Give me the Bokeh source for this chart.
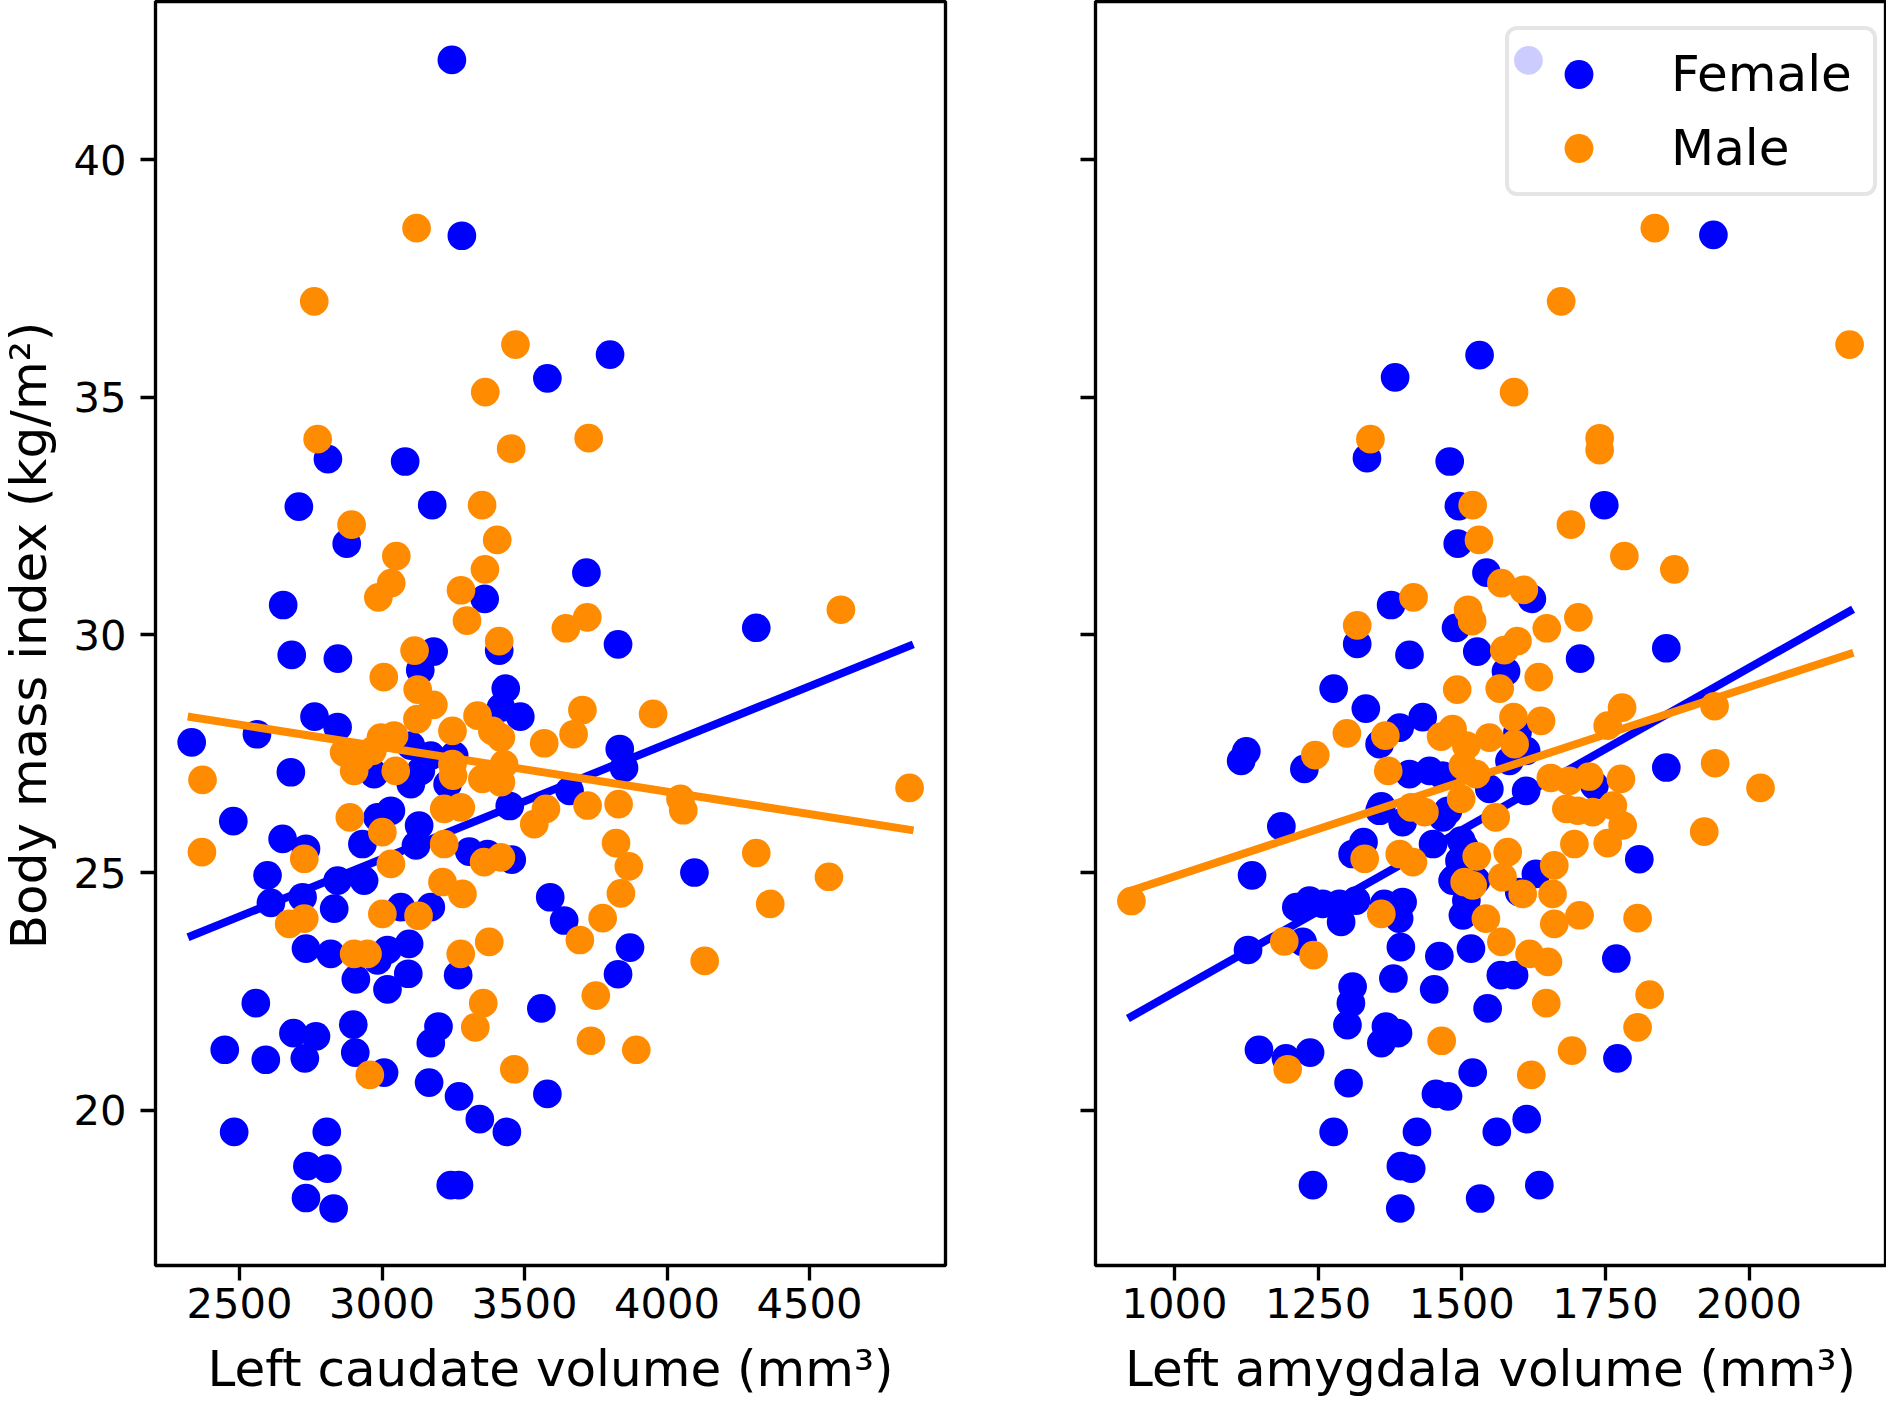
import math
from bokeh.plotting import figure
from bokeh.models import Range1d, FixedTicker, Legend, LegendItem, Label
from bokeh.layouts import row, column
from bokeh.embed import file_html
from bokeh.resources import INLINE

FONT = "DejaVu Sans"
BLUE = "#0000ff"
ORANGE = "#ff8c00"

# ---------------- data ----------------
bmi_ticks = [20, 25, 30, 35, 40]
caudate_ticks = [2500, 3000, 3500, 4000, 4500]
amygdala_ticks = [1000, 1250, 1500, 1750, 2000]

y_label = "Body mass index (kg/m²)"
x_label_left = "Left caudate volume (mm³)"
x_label_right = "Left amygdala volume (mm³)"
legend_labels = ["Female", "Male"]

caud_f_x = [3245, 3280, 3800, 3580, 2810, 3081, 2708, 3176, 2876, 3717, 3360, 2653, 4313, 3828, 2683, 2845,
            3181, 3411, 3134, 3434, 3417, 3485, 2763, 2844, 2561, 2332, 3834, 3849, 3101, 3171, 3253, 2680,
            2972, 3101, 3136, 3230, 3658, 3448, 2478, 3031, 2984, 3130, 2651, 2733, 2931, 3119, 3306, 3370,
            3455, 2598, 2937, 2844, 2610, 2832, 2721, 3066, 3171, 3590, 3639, 3870, 2733, 2820, 3019, 3095,
            2984, 2908, 3092, 3019, 3267, 3828, 2557, 3559, 2689, 2768, 2729, 2899, 2906, 3198, 3171, 2448,
            2592, 3007, 3165, 3270, 3580, 3343, 3438, 2481, 2806, 2738, 2808, 2733, 2830, 3241, 3270, 4096]
caud_f_y = [42.1, 38.4, 35.9, 35.4, 33.7, 33.65, 32.7, 32.73, 31.92, 31.31, 30.76, 30.63, 30.15, 29.8, 29.58, 29.5,
            29.65, 29.67, 29.26, 28.87, 28.47, 28.28, 28.28, 28.06, 27.91, 27.74, 27.6, 27.2, 27.67, 27.46, 27.46, 27.11,
            27.07, 26.86, 27.14, 26.86, 26.72, 26.4, 26.08, 26.3, 26.16, 25.99, 25.71, 25.5, 25.6, 25.57, 25.44, 25.39,
            25.27, 24.94, 24.83, 24.83, 24.36, 24.24, 24.48, 24.27, 24.27, 24.48, 23.99, 23.42, 23.4, 23.29, 23.37, 23.5,
            23.15, 22.75, 22.87, 22.54, 22.84, 22.86, 22.25, 22.14, 21.62, 21.55, 21.09, 21.8, 21.21, 21.76, 21.41, 21.27,
            21.06, 20.79, 20.58, 20.29, 20.34, 19.81, 19.54, 19.54, 19.54, 18.82, 18.77, 18.15, 17.93, 18.42, 18.42, 25.0]

caud_m_x = [3121, 2762, 3468, 3362, 2774, 3453, 3725, 3351, 2893, 3404, 3050, 3361, 3032, 2987, 3277, 3298,
            3645, 3720, 4610, 3411, 3114, 3006, 3125, 3180, 3124, 3335, 3247, 3387, 3417, 3703, 3672, 3569,
            2996, 3042, 2867, 2926, 2902, 3048, 2966, 3247, 3249, 3352, 3417, 3428, 3721, 3830, 3534, 3575,
            2370, 3218, 3276, 2887, 3001, 3218, 3821, 2368, 2727, 3031, 3358, 3417, 3212, 3282, 3866, 3838,
            2674, 2727, 3001, 3128, 3774, 3694, 3376, 3276, 2902, 2949, 3750, 3355, 3327, 3733, 3464, 2957,
            3892, 3951, 4851, 4047, 4057, 4313, 4568, 4362, 4132]
caud_m_y = [38.56, 37.02, 36.11, 35.11, 34.12, 33.92, 34.14, 32.73, 32.32, 32.0, 31.66, 31.38, 31.09, 30.79, 30.94, 30.3,
            30.14, 30.37, 30.53, 29.87, 29.67, 29.11, 28.85, 28.53, 28.23, 28.3, 27.98, 27.98, 27.84, 28.42, 27.91, 27.72,
            27.84, 27.88, 27.53, 27.42, 27.14, 27.14, 27.56, 27.28, 27.04, 26.97, 26.9, 27.28, 26.41, 26.44, 26.02, 26.34,
            26.95, 26.34, 26.37, 26.16, 25.85, 25.6, 25.62, 25.43, 25.29, 25.18, 25.22, 25.32, 24.8, 24.55, 25.13, 24.56,
            23.92, 24.03, 24.13, 24.09, 24.04, 23.58, 23.54, 23.29, 23.29, 23.29, 22.41, 22.25, 21.74, 21.46, 20.86, 20.74,
            21.27, 28.34, 26.78, 26.55, 26.31, 25.41, 24.91, 24.34, 23.14]

amyg_f_x = [1616, 1938, 1531, 1384, 1335, 1479, 1495, 1748, 1493, 1543, 1622, 1377, 1490, 1856, 1318, 1409,
            1527, 1706, 1577, 1277, 1333, 1392, 1432, 1597, 1612, 1125, 1116, 1226, 1357, 1409, 1444, 1467,
            1583, 1548, 1612, 1731, 1856, 1186, 1360, 1397, 1476, 1450, 1499, 1496, 1310, 1135, 1809, 1629,
            1484, 1212, 1235, 1258, 1287, 1316, 1290, 1128, 1223, 1365, 1397, 1391, 1329, 1394, 1461, 1516,
            1381, 1452, 1310, 1307, 1301, 1368, 1389, 1360, 1545, 1568, 1591, 1467, 1487, 1525, 1502, 1600,
            1769, 1147, 1194, 1236, 1303, 1519, 1455, 1476, 1613, 1277, 1422, 1561, 1394, 1412, 1241, 1635,
            1393, 1532, 1771, 1357, 1505, 1508]
amyg_f_y = [42.09, 38.42, 35.89, 35.42, 33.72, 33.65, 32.71, 32.73, 31.92, 31.31, 30.76, 30.63, 30.15, 29.72, 29.81, 29.58,
            29.65, 29.5, 29.23, 28.87, 28.45, 28.05, 28.27, 27.95, 27.56, 27.55, 27.35, 27.18, 27.7, 27.07, 27.14, 27.04,
            27.35, 26.76, 26.72, 26.83, 27.21, 25.97, 26.39, 26.06, 26.3, 25.6, 25.67, 25.25, 25.39, 24.94, 25.28, 24.97,
            24.83, 24.27, 24.41, 24.34, 24.34, 24.41, 23.96, 23.37, 23.54, 24.34, 24.38, 24.03, 25.64, 23.43, 23.24, 23.4,
            22.77, 22.54, 22.6, 22.25, 21.79, 21.76, 21.62, 21.41, 22.14, 22.84, 22.84, 26.16, 24.87, 24.83, 24.1, 24.59,
            23.19, 21.27, 21.09, 21.21, 20.57, 20.79, 20.34, 20.29, 19.81, 19.54, 19.54, 19.54, 18.82, 18.77, 18.42, 18.42,
            17.93, 18.14, 21.09, 26.3, 25.53, 24.41]

amyg_m_x = [1836, 1673, 2175, 1591, 1341, 1740, 1740, 1519, 1530, 1783, 1690, 1870, 1569, 1608, 1416, 1648,
            1703, 1511, 1518, 1318, 1597, 1574, 1492, 1566, 1634, 1590, 1638, 1779, 1754, 1300, 1367, 1464,
            1484, 1508, 1548, 1592, 1245, 1372, 1502, 1525, 1655, 1687, 1722, 1777, 1682, 1702, 1728, 1763,
            1780, 1754, 1696, 1412, 1435, 1499, 1559, 1331, 1392, 1415, 1526, 1580, 1661, 1505, 1519, 1571,
            1606, 1658, 1940, 1941, 2020, 1922, 1806, 1827, 1806, 925, 1191, 1242, 1360, 1542, 1569, 1661,
            1705, 1618, 1650, 1647, 1465, 1692, 1621, 1197]
amyg_m_y = [38.56, 37.02, 36.11, 35.11, 34.12, 34.14, 33.89, 32.73, 32.0, 31.66, 32.32, 31.38, 31.09, 30.95, 30.79, 30.14,
            30.37, 30.53, 30.29, 30.2, 29.87, 29.68, 28.85, 28.87, 29.11, 28.27, 28.19, 28.47, 28.09, 27.93, 27.88, 27.86,
            28.02, 27.67, 27.84, 27.7, 27.47, 27.14, 27.25, 27.07, 26.99, 26.93, 27.02, 26.97, 26.34, 26.3, 26.27, 26.41,
            25.99, 25.62, 25.6, 26.37, 26.27, 26.55, 26.16, 25.29, 25.39, 25.22, 25.34, 25.43, 25.15, 24.8, 24.73, 24.9,
            24.55, 24.55, 28.5, 27.3, 26.78, 25.86, 24.04, 22.43, 21.74, 24.4, 23.55, 23.26, 24.13, 24.03, 23.54, 23.92,
            24.1, 23.29, 23.12, 22.25, 21.46, 21.25, 20.74, 20.86]

# fitted regression lines (end points)
caud_fit_f_x = [2332, 4851]
caud_fit_f_y = [23.67, 29.77]
caud_fit_m_x = [2332, 4851]
caud_fit_m_y = [28.27, 25.90]
amyg_fit_f_x = [925, 2175]
amyg_fit_f_y = [21.97, 30.50]
amyg_fit_m_x = [925, 2175]
amyg_fit_m_y = [24.62, 29.60]

MARKER = 28.7
LW = 8
FRAME_W = 790
FRAME_H = 1264
TOP = 1
TICK_BORDER = 72                   # room under each panel for ticks + tick labels
TOTAL_W, TOTAL_H = 1886, 1399
YSTRIP_W = 60                      # strip on the left holding the y-axis title
PANEL_H = TOP + FRAME_H + TICK_BORDER
XSTRIP_H = TOTAL_H - PANEL_H       # strip underneath holding the x-axis titles
L1, R1 = 95, 75                    # borders of the left panel
L2, R2 = 75, 1                     # borders of the right panel
W1 = L1 + FRAME_W + R1
W2 = L2 + FRAME_W + R2


def style(p):
    p.outline_line_color = "black"
    p.outline_line_width = 3.33
    p.xgrid.visible = False
    p.ygrid.visible = False
    p.background_fill_color = "white"
    p.border_fill_color = "white"
    for ax in p.axis:
        ax.axis_line_color = None
        ax.major_tick_out = 15
        ax.major_tick_in = 0
        ax.major_tick_line_width = 3.33
        ax.major_tick_line_color = "black"
        ax.minor_tick_line_color = None
        ax.major_label_text_font = FONT
        ax.major_label_text_font_size = "41.7px"
        ax.major_label_text_color = "black"
        ax.major_label_standoff = 14
    p.xaxis.major_label_standoff = 7


def strip(width, height):
    s = figure(width=width, height=height, output_backend="svg", toolbar_location=None,
               x_axis_location=None, y_axis_location=None, min_border=0,
               x_range=Range1d(0, 1), y_range=Range1d(0, 1))
    s.outline_line_color = None
    s.xgrid.visible = False
    s.ygrid.visible = False
    s.background_fill_color = "white"
    s.border_fill_color = "white"
    return s


def title_text(p, text, x, y, angle=0.0):
    p.add_layout(Label(x=x, y=y, x_units="screen", y_units="screen", text=text, angle=angle,
                       text_align="center", text_baseline="alphabetic",
                       text_font=FONT, text_font_size="50px", text_color="black"))


p1 = figure(width=W1, height=PANEL_H, output_backend="svg", toolbar_location=None,
            x_range=Range1d(2205, 4977), y_range=Range1d(16.73, 43.33),
            min_border_left=L1, min_border_right=R1, min_border_top=TOP, min_border_bottom=TICK_BORDER)
p2 = figure(width=W2, height=PANEL_H, output_backend="svg", toolbar_location=None,
            x_range=Range1d(862.5, 2237.5), y_range=Range1d(16.73, 43.33),
            min_border_left=L2, min_border_right=R2, min_border_top=TOP, min_border_bottom=TICK_BORDER)

for p in (p1, p2):
    style(p)
    p.yaxis.ticker = FixedTicker(ticks=bmi_ticks)

p1.xaxis.ticker = FixedTicker(ticks=caudate_ticks)
p2.xaxis.ticker = FixedTicker(ticks=amygdala_ticks)
# shared y axis: the right panel keeps its ticks but shows no numbers
p2.yaxis.major_label_text_color = None
p2.yaxis.major_label_standoff = 0

# left panel
p1.scatter(x=caud_f_x, y=caud_f_y, size=MARKER, fill_color=BLUE, line_color=None)
p1.line(x=caud_fit_f_x, y=caud_fit_f_y, line_width=LW, line_color=BLUE, line_cap="square")
p1.scatter(x=caud_m_x, y=caud_m_y, size=MARKER, fill_color=ORANGE, line_color=None)
p1.line(x=caud_fit_m_x, y=caud_fit_m_y, line_width=LW, line_color=ORANGE, line_cap="square")

# right panel
rf = p2.scatter(x=amyg_f_x, y=amyg_f_y, size=MARKER, fill_color=BLUE, line_color=None)
p2.line(x=amyg_fit_f_x, y=amyg_fit_f_y, line_width=LW, line_color=BLUE, line_cap="square")
rm = p2.scatter(x=amyg_m_x, y=amyg_m_y, size=MARKER, fill_color=ORANGE, line_color=None)
p2.line(x=amyg_fit_m_x, y=amyg_fit_m_y, line_width=LW, line_color=ORANGE, line_cap="square")

legend = Legend(items=[LegendItem(label=legend_labels[0], renderers=[rf]),
                       LegendItem(label=legend_labels[1], renderers=[rm])],
                location=(410, 1069))
legend.label_text_font = FONT
legend.label_text_font_size = "50px"
legend.label_text_color = "black"
legend.glyph_width = 123
legend.glyph_height = 72
legend.label_standoff = 31
legend.label_width = 194
legend.padding = 8
legend.spacing = 2
legend.margin = 0
legend.border_line_color = "#cccccc"
legend.border_line_width = 4
legend.background_fill_color = "white"
legend.background_fill_alpha = 0.8
try:
    legend.border_radius = 12
except Exception:
    pass
p2.add_layout(legend, "center")

# axis titles, drawn inside their own strips so nothing clips them
# (the label anchor sits at the text's vertical middle)
ystrip = strip(YSTRIP_W, TOTAL_H)
title_text(ystrip, y_label, 28, TOTAL_H - 635, angle=math.pi / 2)

xstrip = strip(W1 + W2, XSTRIP_H)
title_text(xstrip, x_label_left, L1 + FRAME_W / 2, XSTRIP_H / 2)
title_text(xstrip, x_label_right, W1 + L2 + FRAME_W / 2, XSTRIP_H / 2)

layout = row(ystrip, column(row(p1, p2), xstrip))
open("out.html", "w").write(file_html(layout, INLINE))
